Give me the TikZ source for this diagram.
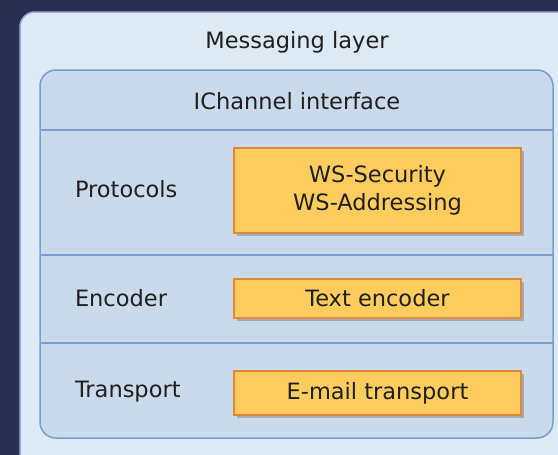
\documentclass[tikz,border=0pt]{standalone}
\usepackage{fontspec}
\setmainfont{DejaVu Sans}
\usetikzlibrary{positioning,shadows}

\definecolor{navy}{HTML}{29304F}
\definecolor{layerfill}{HTML}{DDE9F3}
\definecolor{layerline}{HTML}{94AFD9}
\definecolor{chanfill}{HTML}{C9DAEB}
\definecolor{chanline}{HTML}{7C9DD3}
\definecolor{boxfill}{HTML}{FFCD5E}
\definecolor{boxline}{HTML}{E0883A}

\begin{document}
\begin{tikzpicture}[
    x=1pt, y=-1pt,
    every node/.style={font=\fontsize{22.5}{28}\selectfont, text=black!88, inner sep=0pt, outer sep=0pt},
    layer/.style={rectangle, draw=layerline, fill=layerfill, line width=1.5pt, rounded corners=15pt, anchor=north west},
    channel/.style={rectangle, draw=chanline, fill=chanfill, line width=1.5pt, rounded corners=16pt, anchor=north west},
    divider/.style={draw=chanline, line width=1.5pt},
    impl/.style={rectangle, draw=boxline, fill=boxfill, line width=1.5pt, minimum width=287pt, align=center, drop shadow={shadow xshift=3pt, shadow yshift=-3pt, fill=black!50, opacity=0.5}},
    rowlabel/.style={anchor=west}
]

\useasboundingbox (0,0) rectangle (558,455);
\fill[navy] (0,0) rectangle (558,455);
\clip (0,0) rectangle (558,455);

% Messaging layer
\node[layer, minimum width=560pt, minimum height=470pt] (msg) at (20,12) {};
\node (msgtitle) at (297,42) {Messaging layer};

% IChannel interface
\node[channel, minimum width=513pt, minimum height=368pt] (chan) at (40,70) {};
\node (chantitle) at (297,101) {IChannel interface};

% Row dividers
\coordinate (d1) at (0,130);
\coordinate (d2) at (0,255);
\coordinate (d3) at (0,343);
\draw[divider] (chan.west |- d1) -- (chan.east |- d1);
\draw[divider] (chan.west |- d2) -- (chan.east |- d2);
\draw[divider] (chan.west |- d3) -- (chan.east |- d3);

% Rows
\node[rowlabel] (protocols) at (75,189) {Protocols};
\node[impl, minimum height=85pt] (security) at (377.5,190.5) {WS-Security\\WS-Addressing};

\node[rowlabel] (encoder) at (75,298) {Encoder};
\node[impl, minimum height=39pt] (textenc) at (377.5,298.5) {Text encoder};

\node[rowlabel] (transport) at (75,392) {Transport};
\node[impl, minimum height=44pt] (email) at (377.5,393) {E-mail transport};

\end{tikzpicture}
\end{document}
